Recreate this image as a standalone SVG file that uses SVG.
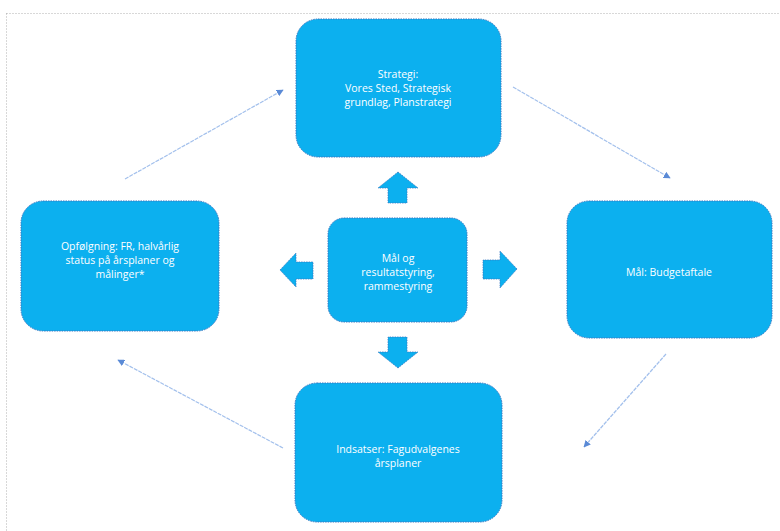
<svg xmlns="http://www.w3.org/2000/svg" width="780" height="531" viewBox="0 0 780 531">
<defs>
<style>
.node{fill:#0cb0ef;stroke:#3a78c2;stroke-width:1;stroke-dasharray:1.5 1}
.blk{fill:#0cb0ef;stroke:#3a78c2;stroke-width:0.8;stroke-dasharray:1.5 1}
.lbl{font-family:"Open Sans","Liberation Sans",sans-serif;font-size:10.5px;fill:#ffffff;text-anchor:middle}
.con{stroke:#a3c0ec;stroke-width:1.2;fill:none;stroke-dasharray:4 1}
</style>
<marker id="ah" viewBox="0 0 10 10" refX="9" refY="5" markerWidth="7" markerHeight="7" orient="auto" markerUnits="userSpaceOnUse">
<path d="M0,0 L10,5 L0,10 z" fill="#5a8ad6"/>
</marker>
</defs>
<rect x="6.5" y="13.5" width="780" height="530" fill="none" stroke="#b0b0b0" stroke-width="1" stroke-dasharray="1 2"/>
<g id="connectors">
<line class="con" x1="125" y1="179" x2="283" y2="90" marker-end="url(#ah)"/>
<line class="con" x1="513" y1="87" x2="670" y2="178" marker-end="url(#ah)"/>
<line class="con" x1="666" y1="354" x2="584" y2="447" marker-end="url(#ah)"/>
<line class="con" x1="283" y1="448" x2="118" y2="360" marker-end="url(#ah)"/>
<polygon class="blk" points="398,172 418,188 407,188 407,203 388,203 388,188 378,188"/>
<polygon class="blk" points="398,368 418,352 407,352 407,337 388,337 388,352 378,352"/>
<polygon class="blk" points="280,270 296,253 296,262 313,262 313,279 296,279 296,287"/>
<polygon class="blk" points="517,269 500,251 500,260 483,260 483,279 500,279 500,288"/>
</g>
<g id="strategi">
<rect class="node" x="296" y="19" width="205" height="138" rx="22"/>
<text class="lbl" x="398" y="78">Strategi:</text>
<text class="lbl" x="398" y="92">Vores Sted, Strategisk</text>
<text class="lbl" x="398" y="106">grundlag, Planstrategi</text>
</g>
<g id="opfoelgning">
<rect class="node" x="21" y="201" width="198" height="130" rx="22"/>
<text class="lbl" x="120" y="250">Opfølgning: FR, halvårlig</text>
<text class="lbl" x="120" y="264">status på årsplaner og</text>
<text class="lbl" x="120" y="278">målinger*</text>
</g>
<g id="maal-og-resultatstyring">
<rect class="node" x="328" y="218" width="139" height="104" rx="16"/>
<text class="lbl" x="398" y="262">Mål og</text>
<text class="lbl" x="398" y="276">resultatstyring,</text>
<text class="lbl" x="398" y="290">rammestyring</text>
</g>
<g id="budgetaftale">
<rect class="node" x="567" y="201" width="205" height="137" rx="22"/>
<text class="lbl" x="669" y="276">Mål: Budgetaftale</text>
</g>
<g id="indsatser">
<rect class="node" x="295" y="383" width="207" height="139" rx="22"/>
<text class="lbl" x="398" y="453">Indsatser: Fagudvalgenes</text>
<text class="lbl" x="398" y="467">årsplaner</text>
</g>
</svg>
